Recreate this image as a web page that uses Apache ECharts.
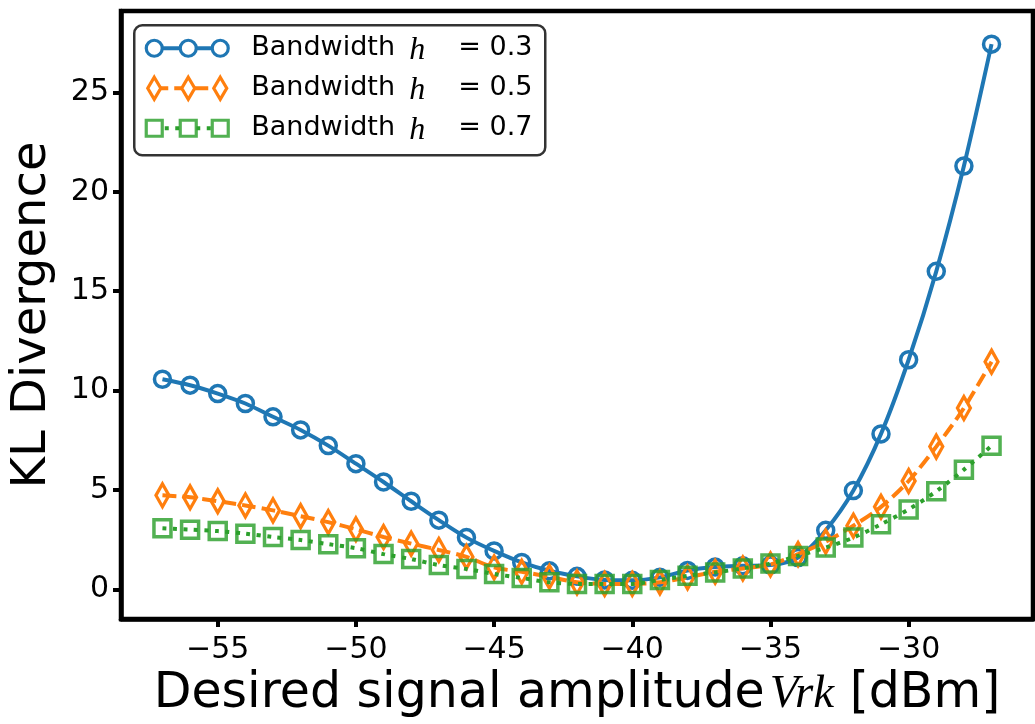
<!DOCTYPE html>
<html><head><meta charset="utf-8">
<script src="https://cdn.jsdelivr.net/npm/echarts@6/dist/echarts.min.js"></script>
<style>html,body{margin:0;padding:0;background:#fff}#c{width:1035px;height:724px}</style>
</head><body><div id="c"></div>
<script>
const xValues = [-57,-56,-55,-54,-53,-52,-51,-50,-49,-48,-47,-46,-45,-44,-43,-42,-41,-40,-39,-38,-37,-36,-35,-34,-33,-32,-31,-30,-29,-28,-27];
const klH03 = [10.57,10.27,9.85,9.35,8.68,8.02,7.23,6.32,5.40,4.43,3.48,2.60,1.93,1.35,0.93,0.65,0.47,0.45,0.60,0.95,1.12,1.18,1.22,1.60,2.97,4.97,7.82,11.55,16.0,21.3,27.43];
const klH05 = [4.73,4.63,4.43,4.22,3.97,3.68,3.38,3.02,2.63,2.30,1.98,1.63,1.10,0.88,0.63,0.35,0.27,0.27,0.35,0.60,0.88,1.05,1.25,1.77,2.40,3.20,4.15,5.45,7.18,9.12,11.45];
const klH07 = [3.07,3.00,2.93,2.80,2.63,2.48,2.27,2.07,1.77,1.52,1.22,1.02,0.77,0.57,0.35,0.27,0.27,0.27,0.47,0.68,0.85,1.05,1.30,1.68,2.10,2.60,3.27,4.02,4.93,6.02,7.22];
const xTicks = [-55,-50,-45,-40,-35,-30];
const yTicks = [0,5,10,15,20,25];
const hValues = ['0.3','0.5','0.7'];

const C_BLUE = '#1f77b4', C_ORANGE = '#ff7f0e', C_GREEN = '#2ca02c';
const C_GREEN_MK = 'rgba(44,160,44,0.82)';
const FONT = 'DejaVu Sans';

function pairs(ys){ return xValues.map((x,i)=>[x, ys[i]]); }

const chart = echarts.init(document.getElementById('c'), null, {renderer:'canvas'});

const legX = 133, legY = 24, rowY = [23, 63, 103];
const mk = [20, 54, 86];
const legendChildren = [{
  type:'rect', shape:{x:0,y:0,width:411,height:130,r:8},
  style:{fill:'#fff', stroke:'#333', lineWidth:2.5}
}];
legendChildren.push({type:'line', shape:{x1:mk[0],y1:rowY[0],x2:mk[2],y2:rowY[0]}, style:{stroke:C_BLUE, lineWidth:4}});
mk.forEach(m=>legendChildren.push({type:'circle', shape:{cx:m,cy:rowY[0],r:8}, style:{fill:'#fff', stroke:C_BLUE, lineWidth:3.2}}));
legendChildren.push({type:'line', shape:{x1:mk[0],y1:rowY[1],x2:mk[2],y2:rowY[1]}, style:{stroke:C_ORANGE, lineWidth:4, lineDash:[14,6]}});
mk.forEach(m=>legendChildren.push({type:'polygon', shape:{points:[[m,rowY[1]-11],[m+6.5,rowY[1]],[m,rowY[1]+11],[m-6.5,rowY[1]]]}, style:{fill:'#fff', stroke:C_ORANGE, lineWidth:3.2}}));
legendChildren.push({type:'line', shape:{x1:mk[0],y1:rowY[2],x2:mk[2],y2:rowY[2]}, style:{stroke:C_GREEN, lineWidth:4, lineDash:[4,6.5]}});
mk.forEach(m=>legendChildren.push({type:'rect', shape:{x:m-8,y:rowY[2]-8,width:16,height:16}, style:{fill:'#fff', stroke:C_GREEN_MK, lineWidth:3.2}}));
hValues.forEach((h,i)=>{
  legendChildren.push({type:'text', x:117, y:rowY[i], style:{text:'Bandwidth', font:'27px "DejaVu Sans"', fill:'#000', verticalAlign:'middle'}});
  legendChildren.push({type:'text', x:275, y:rowY[i]+2, style:{text:'h', font:'italic 32px "Liberation Serif"', fill:'#000', verticalAlign:'middle'}});
  legendChildren.push({type:'text', x:324, y:rowY[i], style:{text:'= '+h, font:'27px "DejaVu Sans"', fill:'#000', verticalAlign:'middle'}});
});

const option = {
  backgroundColor:'#fff',
  animation:false,
  grid:{left:121, right:2, top:11, bottom:101, show:true, borderColor:'#000', borderWidth:4.5, backgroundColor:'transparent'},
  xAxis:{
    type:'value', min:-58.5, max:-25.5,
    axisLine:{show:true, onZero:false, lineStyle:{color:'#000', width:4.5}},
    splitLine:{show:false},
    axisTick:{show:true, inside:false, length:8, lineStyle:{color:'#000', width:4}, customValues:xTicks},
    axisLabel:{customValues:xTicks, margin:16, color:'#000', fontSize:30, fontFamily:FONT,
      formatter:v=>String(v).replace('-','\u2212')},
    name:'{a|Desired signal amplitude}{b|Vrk}{a| [dBm]}',
    nameLocation:'middle', nameGap:40,
    nameTextStyle:{rich:{
      a:{fontSize:49, fontFamily:FONT, color:'#000'},
      b:{fontSize:47, fontFamily:'Liberation Serif', fontStyle:'italic', color:'#000', padding:[0,0,0,5]}
    }}
  },
  yAxis:{
    type:'value', min:-1.5, max:29.1,
    axisLine:{show:true, onZero:false, lineStyle:{color:'#000', width:4.5}},
    splitLine:{show:false},
    axisTick:{show:true, inside:false, length:8, lineStyle:{color:'#000', width:4}, customValues:yTicks},
    axisLabel:{customValues:yTicks, margin:12, color:'#000', fontSize:30, fontFamily:FONT},
    name:'KL Divergence', nameLocation:'middle', nameGap:64,
    nameTextStyle:{fontSize:48, fontFamily:FONT, color:'#000'}
  },
  series:[
    {type:'line', name:'h03', data:pairs(klH03), smooth:0.3, symbol:'circle', symbolSize:16,
     lineStyle:{color:C_BLUE, width:4}, itemStyle:{color:'rgba(255,255,255,0)', borderColor:C_BLUE, borderWidth:3.5}, z:2},
    {type:'line', name:'h05', data:pairs(klH05), smooth:0.3, symbol:'diamond', symbolSize:[13,23],
     lineStyle:{color:C_ORANGE, width:4, type:[14,6]}, itemStyle:{color:'rgba(255,255,255,0)', borderColor:C_ORANGE, borderWidth:3.5}, z:3},
    {type:'line', name:'h07', data:pairs(klH07), smooth:0.3, symbol:'rect', symbolSize:17,
     lineStyle:{color:C_GREEN, width:4, type:[4,6.5]}, itemStyle:{color:'rgba(255,255,255,0)', borderColor:C_GREEN_MK, borderWidth:3.5}, z:4}
  ],
  graphic:[{type:'group', left:legX, top:legY, children:legendChildren, z:100}]
};
chart.setOption(option);
</script></body></html>
